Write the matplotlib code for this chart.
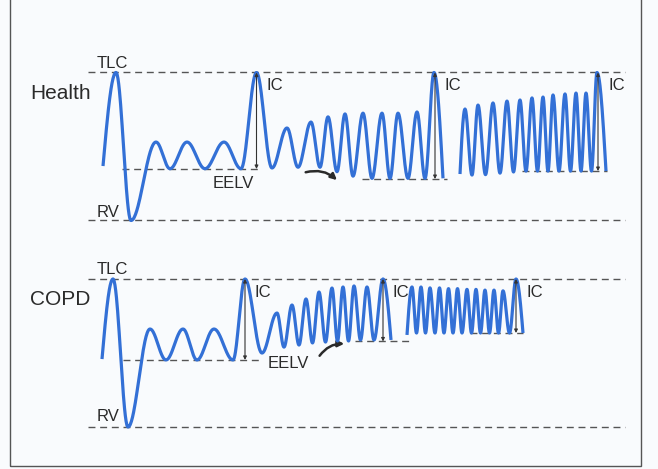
import numpy as np
import matplotlib
matplotlib.use('Agg')
import matplotlib.pyplot as plt
from matplotlib.patches import FancyArrowPatch, Rectangle

# turning points of the volume trace: time (a.u.) and lung volume
# (RV = 0, TLC = 100)
health_t1 = [103, 116, 131, 156, 170, 187, 205, 224, 241, 256.5, 272, 287, 298, 311, 320,
             328, 337, 345, 353, 363, 372, 382, 390, 398, 408, 417, 425, 434, 443]
health_v1 = [36.8, 100, 0, 53, 35, 53, 35, 53, 35, 100, 35.5, 62.5, 36, 66.5, 36,
             70, 33, 72, 30, 72.5, 28.5, 72.5, 28.5, 72.5, 28.5, 73.3, 28.5, 100, 28.5]
health_t2 = [460, 465, 472, 478, 485.5, 493, 500, 507, 513.5, 520, 526, 532, 537.5, 543,
             548, 553, 559, 565, 570.5, 576, 581, 586, 591.5, 597, 606]
health_v2 = [31.4, 75.3, 30.7, 78, 31, 79.4, 32, 80.7, 32.8, 81.4, 33.4, 82.8, 33.4, 83.4,
             33.4, 84.8, 33.4, 85.5, 33.4, 86.1, 33.4, 86.1, 33.4, 100, 33.4]

copd_t1 = [102, 113, 128, 150, 166, 183, 197, 214, 233, 245, 262, 277, 284, 292, 299,
           306, 312.5, 319, 325.5, 332, 337.5, 343, 348.5, 354, 360.5, 367, 374, 383, 391]
copd_v1 = [45.9, 100, 0, 66.2, 45.3, 66.2, 45.3, 66.2, 45.3, 100, 50, 77, 54, 82.4, 55.4,
           86.5, 56.8, 91.2, 57.4, 93.9, 58.1, 94.6, 58.1, 95.3, 58.8, 94.6, 58.8, 100, 58.8]
copd_t2 = [407, 412, 416.5, 421, 425.5, 430, 435, 439.5, 444, 448.5, 453, 457.5, 462, 467,
           471.5, 476, 480.5, 485, 489.5, 494, 498.5, 503, 509.5, 516, 523]
copd_v2 = [62.2, 94.6, 63.5, 94.6, 63.5, 94, 63.5, 94, 63.5, 93.5, 63.5, 93.5, 63.5, 93,
           63.5, 93, 63.5, 92.5, 63.5, 92.5, 63.5, 92, 63.5, 100, 63.5]

# reference levels (volume, start, end)
health_levels = [(100, 88, 625), (0, 88, 625), (34.8, 122, 262), (28, 362, 447), (33.4, 522, 607)]
copd_levels = [(100, 88, 625), (0, 88, 625), (45.3, 123, 262), (57.8, 355, 413), (63.5, 470, 523)]

# IC manoeuvres: time, EELV
health_ic = [(256.5, 34.8), (435, 28), (598, 33.4)]
copd_ic = [(245, 45.3), (383, 57.8), (516, 63.5)]

BLUE = '#3370d6'
INK = '#2a2a2a'
DASH = '#555555'


def trace(t, v, n=40):
    xs, ys = [], []
    last = len(t) - 2
    for i in range(len(t) - 1):
        s = np.linspace(0, 1, n)
        if i == 0:
            w = np.sin(np.pi / 2 * s)
        elif i == last:
            w = 1 - np.cos(np.pi / 2 * s)
        else:
            w = (1 - np.cos(np.pi * s)) / 2
        xs.append(t[i] + (t[i + 1] - t[i]) * s)
        ys.append(v[i] + (v[i + 1] - v[i]) * w)
    return np.concatenate(xs), np.concatenate(ys)


def place(ax, top_px, bot_px, rv_px, tlc_px):
    H = 469
    ax.set_position([0, 1 - bot_px / H, 1, (bot_px - top_px) / H])
    k = (rv_px - tlc_px) / 100
    ax.set_ylim((rv_px - bot_px) / k, (rv_px - top_px) / k)
    ax.set_xlim(0, 658)
    ax.axis('off')


def panel(ax, name, segs, levels, ics, ic_dy, tlc_y, rv_y, eelv_xy, arrow):
    for lv, x0, x1 in levels:
        ax.hlines(lv, x0, x1, colors=DASH, linewidth=1.0, linestyles=(0, (5, 3.4)))
    for t, v in segs:
        x, y = trace(t, v)
        ax.plot(x, y, color=BLUE, lw=2.3, solid_capstyle='butt', clip_on=False)
    for x, lo in ics:
        ax.annotate('', xy=(x, 100), xytext=(x, lo),
                    arrowprops=dict(arrowstyle='<|-|>', color='#333333', lw=0.8,
                                    mutation_scale=5, shrinkA=0, shrinkB=0))
        ax.text(x + 10, 100 - ic_dy, 'IC', fontsize=12, color=INK, va='center', ha='left')
    ax.text(97, tlc_y, 'TLC', fontsize=12, color=INK, va='center')
    ax.text(97, rv_y, 'RV', fontsize=12, color=INK, va='center')
    ax.text(eelv_xy[0], eelv_xy[1], 'EELV', fontsize=12, color=INK, va='center')
    ax.text(30, 86, name, fontsize=15, color=INK, va='center')
    ax.add_patch(FancyArrowPatch(arrow[0], arrow[1], connectionstyle='arc3,rad=-0.3',
                                 arrowstyle='-|>', mutation_scale=9, lw=1.8, color=INK))


plt.rcParams['font.family'] = ['Liberation Sans', 'DejaVu Sans']
fig = plt.figure(figsize=(6.58, 4.69), dpi=100, facecolor='#f9fbfd')

ax1 = fig.add_axes([0, 0, 1, 1])
ax2 = fig.add_axes([0, 0, 1, 1])
place(ax1, 0, 234.5, 220.5, 72.5)
place(ax2, 234.5, 469, 427, 279)

panel(ax1, 'Health', [(health_t1, health_v1), (health_t2, health_v2)], health_levels,
      health_ic, 8.5, 106.4, 5.7, (213, 25.3), ((303, 32.1), (339, 26.0)))
panel(ax2, 'COPD', [(copd_t1, copd_v1), (copd_t2, copd_v2)], copd_levels,
      copd_ic, 9.2, 106.1, 6.8, (268, 42.6), ((318, 46.6), (347, 56.1)))

# outer frame of the figure box
fig.add_artist(Rectangle((10 / 658, 3 / 469), 631 / 658, 1.2, transform=fig.transFigure,
                         fill=False, edgecolor='#555555', lw=1.0))

fig.savefig('out.png', dpi=100, facecolor=fig.get_facecolor())
